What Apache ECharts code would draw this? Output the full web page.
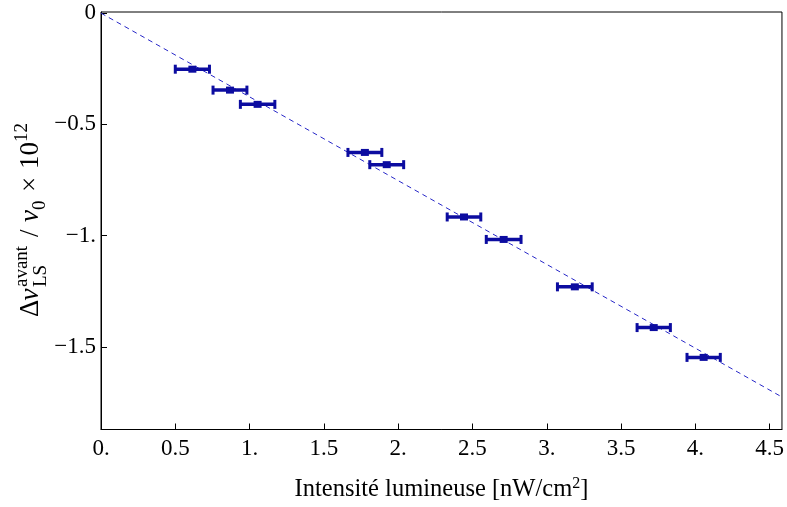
<!DOCTYPE html>
<html>
<head>
<meta charset="utf-8">
<script src="https://cdn.jsdelivr.net/npm/echarts@6/dist/echarts.min.js"></script>
<style>
html,body{margin:0;padding:0;background:#fff;}
#chart{width:787px;height:507px;}
</style>
</head>
<body>
<div id="chart"></div>
<script>
// Data
const intensity = [0.615, 0.868, 1.054, 1.776, 1.923, 2.443, 2.710, 3.189, 3.720, 4.056];
const shift     = [-0.252, -0.346, -0.410, -0.626, -0.681, -0.916, -1.017, -1.230, -1.413, -1.547];
const xError    = [0.115, 0.114, 0.116, 0.114, 0.114, 0.113, 0.117, 0.117, 0.112, 0.112];
const fitX = [0, 4.583];
const fitY = [0, -1.725];
const xTickValues = [0, 0.5, 1, 1.5, 2, 2.5, 3, 3.5, 4, 4.5];
const xTickLabels = ['0.', '0.5', '1.', '1.5', '2.', '2.5', '3.', '3.5', '4.', '4.5'];
const yTickValues = [0, -0.5, -1, -1.5];
const yTickLabels = ['0', '\u22120.5', '\u22121.', '\u22121.5'];

const FONT = 'Liberation Serif';
const COL = '#0c0ca0';

const chart = echarts.init(document.getElementById('chart'));

const pts = intensity.map((x, i) => [x, shift[i], xError[i]]);
const fitData = fitX.map((x, i) => [x, fitY[i]]);

function lookup(vals, labels, v) {
  for (let i = 0; i < vals.length; i++) if (Math.abs(vals[i] - v) < 1e-6) return labels[i];
  return '';
}

// text placed so that its baseline sits at local y = base
function tx(text, x, base, size, italic) {
  return {
    type: 'text', x: x, y: base + 0.216 * size,
    style: {
      text: text,
      font: (italic ? 'italic ' : '') + size + 'px "' + FONT + '"',
      fill: '#000',
      verticalAlign: 'bottom',
      align: 'left'
    }
  };
}

chart.setOption({
  animation: false,
  backgroundColor: '#fff',
  grid: {
    left: 101, right: 4, top: 12, bottom: 74,
    show: true, borderColor: '#000', borderWidth: 1, backgroundColor: 'transparent'
  },
  xAxis: {
    type: 'value', min: 0, max: 4.583,
    axisLine: { show: true, onZero: false, lineStyle: { color: '#000', width: 1 } },
    axisTick: { show: true, inside: true, length: 6, customValues: xTickValues, lineStyle: { color: '#000' } },
    axisLabel: {
      customValues: xTickValues,
      formatter: v => lookup(xTickValues, xTickLabels, v),
      fontFamily: FONT, fontSize: 23, color: '#000', margin: 8
    },
    splitLine: { show: false },
    name: '{m|Intensité lumineuse [nW/cm}{s|2}{m|]}',
    nameLocation: 'middle', nameGap: 46,
    nameTextStyle: {
      rich: {
        m: { fontFamily: FONT, fontSize: 24.5, color: '#000', lineHeight: 28 },
        s: { fontFamily: FONT, fontSize: 16, color: '#000', lineHeight: 16, verticalAlign: 'top' }
      }
    }
  },
  yAxis: {
    type: 'value', min: -1.871, max: 0.005,
    axisLine: { show: true, onZero: false, lineStyle: { color: '#000', width: 1 } },
    axisTick: { show: true, inside: true, length: 6, customValues: yTickValues, lineStyle: { color: '#000' } },
    axisLabel: {
      customValues: yTickValues,
      formatter: v => lookup(yTickValues, yTickLabels, v),
      fontFamily: FONT, fontSize: 23, color: '#000', margin: 5
    },
    splitLine: { show: false }
  },
  graphic: [{
    type: 'group', x: 39, y: 317, rotation: Math.PI / 2,
    children: [
      tx('\u0394', 0, 0, 27, false),
      tx('\u03bd', 16.5, 0, 27, true),
      tx('avant', 30, -12, 19, false),
      tx('LS', 30, 7, 19, false),
      tx('/', 80, 0, 27, false),
      tx('\u03bd', 95, 0, 27, true),
      tx('0', 107, 6, 19, false),
      tx('\u00d7', 125, 0, 27, false),
      tx('10', 148, 0, 27, false),
      tx('12', 175, -12, 19, false)
    ]
  }],
  series: [
    {
      type: 'line', data: fitData, showSymbol: false, silent: true,
      lineStyle: { color: '#2828c8', width: 1, type: [5, 4] },
      z: 1
    },
    {
      type: 'custom', data: pts, z: 3,
      renderItem: function (params, api) {
        const x = api.value(0), y = api.value(1), e = api.value(2);
        const a = api.coord([x - e, y]);
        const b = api.coord([x + e, y]);
        const c = api.coord([x, y]);
        return {
          type: 'group',
          children: [
            { type: 'line', shape: { x1: a[0], y1: a[1], x2: b[0], y2: b[1] }, style: { stroke: COL, lineWidth: 3.5 } },
            { type: 'line', shape: { x1: a[0], y1: a[1] - 4.5, x2: a[0], y2: a[1] + 4.5 }, style: { stroke: COL, lineWidth: 3 } },
            { type: 'line', shape: { x1: b[0], y1: b[1] - 4.5, x2: b[0], y2: b[1] + 4.5 }, style: { stroke: COL, lineWidth: 3 } },
            { type: 'rect', shape: { x: c[0] - 4, y: c[1] - 3.5, width: 8, height: 7 }, style: { fill: COL } }
          ]
        };
      }
    }
  ]
});
</script>
</body>
</html>
